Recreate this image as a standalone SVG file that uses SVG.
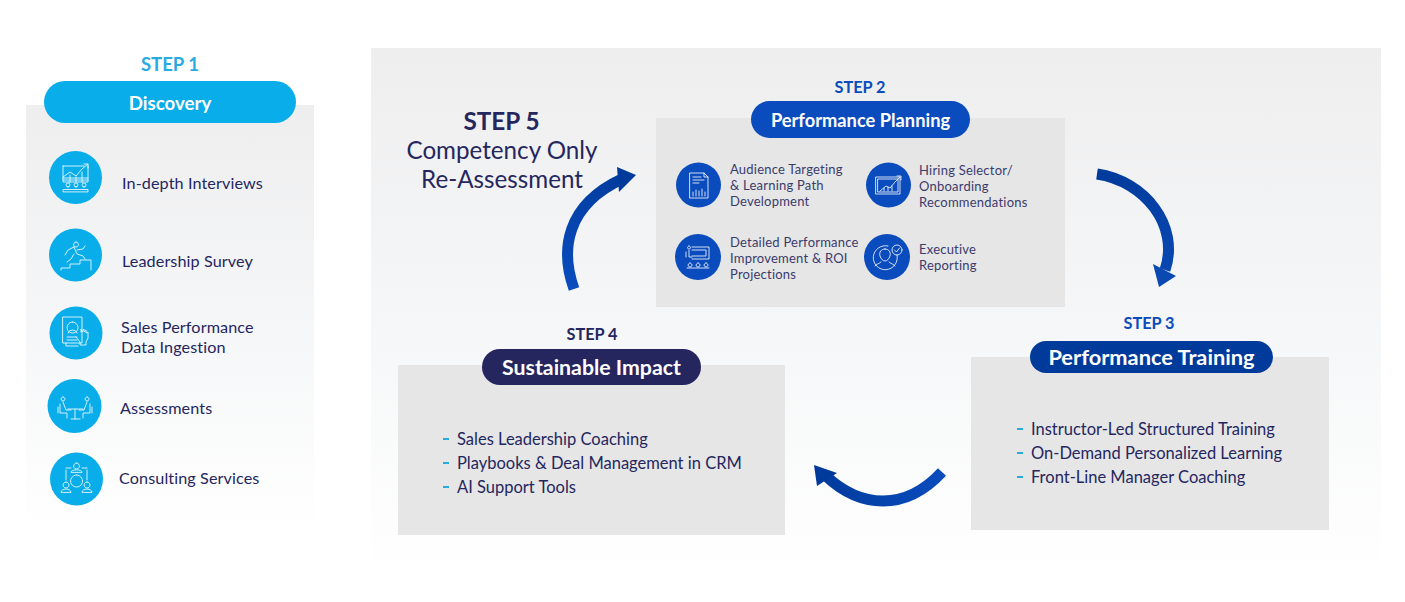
<svg xmlns="http://www.w3.org/2000/svg" width="1405" height="602" viewBox="0 0 1405 602">
<style>
text{font-family:Lato,"Open Sans","Liberation Sans",sans-serif;fill:#25265e}
.c{text-anchor:middle}
.l{font-size:16.2px;letter-spacing:.1px}
.s{font-size:13px;letter-spacing:.22px;fill:#3a3b6b}
.b{font-size:16.5px}
.st{font-size:16.3px;font-weight:700}
.w{fill:#fff;font-weight:700}
.box{fill:#e6e6e7}
.dash{stroke:#29abe2;stroke-width:1.8;fill:none}
.ic{fill:none;stroke:#fff;stroke-width:.9;stroke-linecap:round;stroke-linejoin:round;opacity:.9}
.cy{fill:#08ade9}
.bl{fill:#0a4cbd}
.arrow{fill:none;stroke-width:11}
</style>
<defs>
<linearGradient id="fade" x1="0" y1="0" x2="0" y2="1"><stop offset="0" stop-color="#eeeeef"/><stop offset=".55" stop-color="#f6f7f8"/><stop offset="1" stop-color="#fff"/></linearGradient>
<linearGradient id="a1" gradientUnits="userSpaceOnUse" x1="575" y1="290" x2="636" y2="170"><stop offset="0" stop-color="#0a4cbd"/><stop offset="1" stop-color="#003a9b"/></linearGradient>
<linearGradient id="a2" gradientUnits="userSpaceOnUse" x1="1097" y1="174" x2="1165" y2="285"><stop offset="0" stop-color="#003a9b"/><stop offset="1" stop-color="#0a48b2"/></linearGradient>
<linearGradient id="a3" gradientUnits="userSpaceOnUse" x1="943" y1="473" x2="814" y2="470"><stop offset="0" stop-color="#0a4cbd"/><stop offset="1" stop-color="#003a9b"/></linearGradient>
</defs>
<rect width="1405" height="602" fill="#fff"/>
<rect x="371" y="48" width="1010" height="530" fill="url(#fade)"/>
<rect x="26" y="105" width="288" height="430" fill="url(#fade)"/>

<g id="step1">
<text class="c st" x="170" y="71" style="fill:#29abe2;font-size:18.500px">STEP 1</text>
<rect x="44" y="81" width="252" height="42" rx="21" class="cy"/>
<text class="c w" x="170" y="110" style="font-size:18.700px">Discovery</text>
</g>
<g id="n-interviews">
<circle class="cy" cx="75.500" cy="177.500" r="26.500"/>
<path class="ic" d="M63 166h21M63 166v16h25v-16M63 177l7-5 6 4 6-7 6-5M84 164h4v4M63 178h25M63 180h25M70 175v7M76 177v5M82 172v10M68 187a2 2 0 1 0 .1-4 2 2 0 0 0-.1 4zM76 187a2 2 0 1 0 .1-4 2 2 0 0 0-.1 4zM84 187a2 2 0 1 0 .1-4 2 2 0 0 0-.1 4zM63 191.500v-2h25v2z"/>
<text class="l" x="122" y="189">In-depth Interviews</text>
</g>
<g id="n-survey">
<circle class="cy" cx="75.500" cy="255" r="26.500"/>
<path class="ic" d="M61 270v-2h9v-4h10v-4h11v10M76 242a2.500 2.500 0 1 0 .1 0M74 247l-6 3-3 5M74 247l3 7 6 2 2 3M74 254l-3 5-4 3M77 250l6-1 2-3"/>
<text class="l" x="122" y="267">Leadership Survey</text>
</g>
<g id="n-data">
<circle class="cy" cx="76" cy="333" r="26.500"/>
<path class="ic" d="M63 317h19v26H63zM66 343v3h12M72.500 322a5.500 5.500 0 1 0 .1 0M68 333c1-4 8-4 9 0M67 337h10M67 340h10M81 332v-3l1 3 2-3v3l2-2v3l2-1v6l-2 4v3h-6v-3l-4-5"/>
<text class="l" x="121" y="333">Sales Performance</text>
<text class="l" x="121" y="353">Data Ingestion</text>
</g>
<g id="n-assess">
<circle class="cy" cx="74.500" cy="406" r="27"/>
<path class="ic" d="M63 397a2 2 0 1 0 .1 0M87 397a2 2 0 1 0 .1 0M60 404v9h7v5M90 404v9h-7v5M63 402l3 8h5M87 402l-3 8h-5M68 409h15M75 409v10M71 419h9M58 407v6M92 407v6"/>
<text class="l" x="120" y="414">Assessments</text>
</g>
<g id="n-consult">
<circle class="cy" cx="76.500" cy="479" r="26.500"/>
<path class="ic" d="M76.500 463a3 3 0 1 0 .1 0M71 472c0-3 11-3 11 0zM76.500 475a6 6 0 1 0 .1 0M66 470v10M87 470v10M66 468h5M87 468h-5M66 482a3 3 0 1 0 .1 0M87 482a3 3 0 1 0 .1 0M61 492c0-4 10-4 10 0zM82 492c0-4 10-4 10 0z"/>
<text class="l" x="119" y="484">Consulting Services</text>
</g>

<g id="step2">
<text class="c st" x="860" y="93" style="fill:#0a4cbd">STEP 2</text>
<rect class="box" x="656" y="118" width="409" height="189"/>
<rect class="bl" x="751" y="101" width="219" height="37" rx="18.500"/>
<text class="c w" x="860.500" y="127" style="font-size:18.300px">Performance Planning</text>
</g>
<g id="n-audience">
<circle class="bl" cx="698.500" cy="185" r="22.500"/>
<path class="ic" d="M690 173h14l4 4v21h-18zM704 173v4h4M693 177h8M693 180h11M693 183h6M693 196v-4M696 196v-6M699 196v-5M702 196v-7M705 196v-4"/>
<text class="s" x="730" y="174">Audience Targeting</text>
<text class="s" x="730" y="190">&amp; Learning Path</text>
<text class="s" x="730" y="206">Development</text>
</g>
<g id="n-hiring">
<circle class="bl" cx="888.500" cy="185" r="22.500"/>
<path class="ic" d="M876 177h24v17h-24zM878 179h20v13h-20zM880 191l6-5 4 2 5-6 5-5M897 176h4v4M884 191v-3M888 191v-4M892 191v-5"/>
<text class="s" x="919" y="175">Hiring Selector/</text>
<text class="s" x="919" y="191">Onboarding</text>
<text class="s" x="919" y="207">Recommendations</text>
</g>
<g id="n-detailed">
<circle class="bl" cx="698" cy="257" r="23"/>
<path class="ic" d="M689 246a1.500 1.500 0 1 0 .1 0M692 247h17v12h-17M689 250v7h3M692 250h14v6h-14M686 252v5M690 263a2 2 0 1 0 .1 0M698 263a2 2 0 1 0 .1 0M706 263a2 2 0 1 0 .1 0M687 268h22"/>
<text class="s" x="730" y="247">Detailed Performance</text>
<text class="s" x="730" y="263">Improvement &amp; ROI</text>
<text class="s" x="730" y="279">Projections</text>
</g>
<g id="n-exec">
<circle class="bl" cx="887" cy="257" r="23"/>
<path class="ic" d="M888 246a12 12 0 1 0 9 9M885 249c-4 0-6 3-5 7 1 3 3 5 5 5s4-2 5-5c1-4-1-7-5-7zM881 262c-2 2-5 2-6 4M889 262c2 2 5 2 6 4"/>
<circle class="ic" cx="897" cy="250" r="5"/><path class="ic" d="M894.500 250l2 2 3-4"/>
<text class="s" x="919" y="254">Executive</text>
<text class="s" x="919" y="270">Reporting</text>
</g>

<g id="step3">
<text class="c st" x="1149" y="329" style="fill:#0a4cbd">STEP 3</text>
<rect class="box" x="971" y="357" width="358" height="173"/>
<rect x="1030" y="341" width="243" height="32" rx="16" fill="#003a9b"/>
<text class="c w" x="1151.500" y="365" style="font-size:21.800px">Performance Training</text>
<path class="dash" d="M1017 429h6M1017 453h6M1017 477h6"/>
<text class="b" x="1031" y="435">Instructor-Led Structured Training</text>
<text class="b" x="1031" y="459">On-Demand Personalized Learning</text>
<text class="b" x="1031" y="483">Front-Line Manager Coaching</text>
</g>
<g id="step4">
<text class="c st" x="592" y="340">STEP 4</text>
<rect class="box" x="398" y="365" width="387" height="170"/>
<rect x="482" y="349" width="219" height="36" rx="18" fill="#25265e"/>
<text class="c w" x="591.500" y="375" style="font-size:21.300px">Sustainable Impact</text>
<path class="dash" d="M443 439h6M443 463h6M443 487h6"/>
<text class="b" x="457" y="445">Sales Leadership Coaching</text>
<text class="b" x="457" y="469">Playbooks &amp; Deal Management in CRM</text>
<text class="b" x="457" y="493">AI Support Tools</text>
</g>
<g id="step5">
<text class="c" x="501.500" y="130" style="font-size:24.300px;font-weight:700">STEP 5</text>
<text class="c" x="502" y="159" style="font-size:24.200px">Competency Only</text>
<text class="c" x="502" y="188" style="font-size:24.200px">Re-Assessment</text>
</g>

<g id="connectors">
<path class="arrow" stroke="url(#a1)" stroke-width="10" d="M574 289C560 250 566 205 622 179"/>
<polygon fill="#003a9b" points="636,175 617,167 619,192"/>
<path class="arrow" stroke="url(#a2)" d="M1097 174C1145 181 1180 226 1165 270"/>
<polygon fill="#0a48b2" points="1159,287 1153,264 1176,276"/>
<path class="arrow" stroke="url(#a3)" d="M942 472C905 512 860 508 826 476"/>
<polygon fill="#003a9b" points="814,465 837,473 817,486"/>
</g>
</svg>
